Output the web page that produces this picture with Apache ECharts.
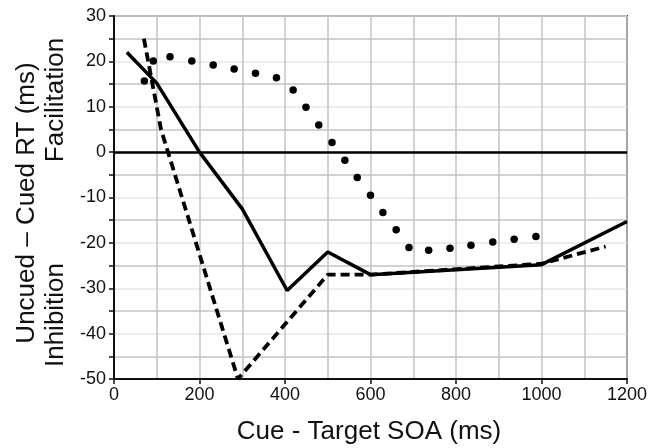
<!DOCTYPE html>
<html>
<head>
<meta charset="utf-8">
<script src="https://cdn.jsdelivr.net/npm/echarts@6/dist/echarts.min.js"></script>
<style>
  html, body { margin: 0; padding: 0; background: #fff; }
  #chart { width: 660px; height: 448px; }
</style>
</head>
<body>
<div id="chart"></div>
<script>
// solid curve
const solidX = [30, 100, 200, 300, 405, 500, 600, 1000, 1200]
const solidY = [22, 15.2, 0, -12.5, -30.5, -22, -27, -24.8, -15.3]
// dashed curve
const dashX = [70, 110, 290, 500, 600, 1000, 1150]
const dashY = [25, 5, -50, -27, -27, -24.6, -20.8]
// dotted curve (each dot)
const dotX = [71, 92, 131, 182, 232, 281, 331, 380, 419, 449, 479, 510, 540, 569, 600, 629, 660, 690, 736, 786, 835, 886, 936, 987]
const dotY = [15.7, 20.1, 21.0, 20.1, 19.2, 18.3, 17.4, 16.4, 13.7, 9.9, 6.0, 2.1, -1.8, -5.6, -9.5, -13.3, -17.1, -21.0, -21.6, -21.2, -20.5, -19.8, -19.2, -18.6]

const FONT = '"Liberation Sans", Arial, Helvetica, sans-serif'
const zip = (xs, ys) => xs.map((x, i) => [x, ys[i]])

const myChart = echarts.init(document.getElementById('chart'))

const option = {
  animation: false,
  grid: {
    left: 114,
    right: 33,
    top: 16,
    bottom: 69,
    show: true,
    borderColor: '#4a4a4a',
    borderWidth: 2,
  },
  xAxis: {
    type: 'value',
    min: 0,
    max: 1200,
    interval: 200,
    axisLine: { onZero: false, lineStyle: { color: '#111', width: 2 } },
    axisTick: { length: 5, lineStyle: { color: '#111', width: 1.5 } },
    axisLabel: { color: '#111', fontSize: 18, fontFamily: FONT, margin: 7, formatter: (v) => String(v) },
    splitLine: { lineStyle: { color: '#c4c4c4', width: 1.5 } },
    minorTick: { show: false, splitNumber: 2 },
    minorSplitLine: { show: true, lineStyle: { color: '#c4c4c4', width: 1.5 } },
  },
  yAxis: {
    type: 'value',
    min: -50,
    max: 30,
    interval: 10,
    axisLine: { onZero: false, lineStyle: { color: '#111', width: 2 } },
    axisTick: { length: 5, lineStyle: { color: '#111', width: 1.5 } },
    minorTick: { show: true, splitNumber: 2, length: 5, lineStyle: { color: '#111', width: 1.5 } },
    axisLabel: { color: '#111', fontSize: 18, fontFamily: FONT, margin: 8 },
    splitLine: { lineStyle: { color: '#e6e6e6', width: 1.5 } },
    minorSplitLine: { show: true, lineStyle: { color: '#c4c4c4', width: 1.5 } },
  },
  graphic: [
    {
      type: 'text',
      x: 27, y: 203, rotation: Math.PI / 2,
      style: { text: 'Uncued – Cued RT (ms)', fill: '#111', font: '26px ' + FONT, align: 'center', verticalAlign: 'middle' },
    },
    {
      type: 'text',
      x: 56, y: 100, rotation: Math.PI / 2,
      style: { text: 'Facilitation', fill: '#111', font: '26px ' + FONT, align: 'center', verticalAlign: 'middle' },
    },
    {
      type: 'text',
      x: 56, y: 315, rotation: Math.PI / 2,
      style: { text: 'Inhibition', fill: '#111', font: '26px ' + FONT, align: 'center', verticalAlign: 'middle' },
    },
    {
      type: 'text',
      x: 369, y: 432,
      style: { text: 'Cue - Target SOA (ms)', fill: '#111', font: '26px ' + FONT, align: 'center', verticalAlign: 'middle' },
    },
  ],
  series: [
    {
      type: 'line',
      data: zip(solidX, solidY),
      symbol: 'none',
      lineStyle: { color: '#000', width: 3.5 },
      z: 5,
      markLine: {
        silent: true,
        symbol: 'none',
        label: { show: false },
        lineStyle: { color: '#000', width: 2.5, type: 'solid' },
        data: [{ yAxis: 0 }],
      },
    },
    {
      type: 'line',
      data: zip(dashX, dashY),
      symbol: 'none',
      lineStyle: { color: '#000', width: 3.8, type: [9, 5] },
      z: 4,
    },
    {
      type: 'scatter',
      data: zip(dotX, dotY),
      symbol: 'circle',
      symbolSize: 7.5,
      itemStyle: { color: '#000', opacity: 1 },
      z: 6,
    },
  ],
}

myChart.setOption(option)
</script>
</body>
</html>
